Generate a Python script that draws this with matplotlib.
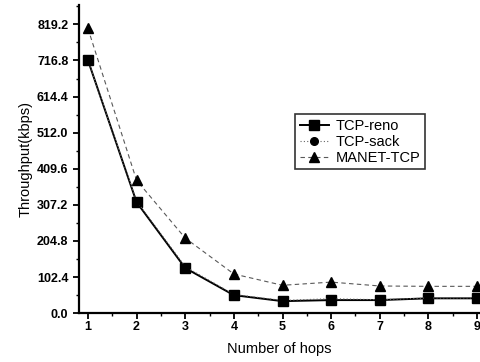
import numpy as np
import matplotlib.pyplot as plt
from matplotlib.ticker import MultipleLocator

# Datos
hops = [1, 2, 3, 4, 5, 6, 7, 8, 9]
tcp_reno = [718, 315, 128, 51, 34, 37, 37, 42, 42]
tcp_sack = [718, 318, 132, 53, 36, 41, 38, 43, 43]
manet_tcp = [808, 377, 213, 111, 79, 88, 77, 76, 76]
yticks = [0.0, 102.4, 204.8, 307.2, 409.6, 512.0, 614.4, 716.8, 819.2]

plt.rcParams['font.family'] = ['Liberation Sans', 'DejaVu Sans']

fig = plt.figure(figsize=(4.81, 3.62), dpi=100)
ax = fig.add_axes([0.164, 0.135, 0.834, 0.851])

ax.plot(hops, tcp_reno, color='black', lw=1.4, marker='s', ms=6.5, label='TCP-reno')
ax.plot(hops, tcp_sack, color='0.4', lw=0.8, ls=(0, (1, 2)), marker='o', ms=5.5,
        mfc='black', mec='black', label='TCP-sack')
ax.plot(hops, manet_tcp, color='0.35', lw=0.8, ls=(0, (4, 3)), marker='^', ms=6.5,
        mfc='black', mec='black', label='MANET-TCP')

ax.set_xlim(0.815, 9.06)
ax.set_ylim(0, 874)
ax.set_xticks(hops)
ax.set_yticks(yticks)
ax.set_yticklabels(['%.1f' % v for v in yticks])
ax.yaxis.set_minor_locator(MultipleLocator(51.2))
ax.xaxis.set_minor_locator(MultipleLocator(0.5))

for s in ['top', 'right']:
    ax.spines[s].set_visible(False)
for s in ['left', 'bottom']:
    ax.spines[s].set_linewidth(1.6)

ax.tick_params(which='major', direction='out', length=4, width=1.3, labelsize=9)
ax.tick_params(which='minor', direction='out', length=2.5, width=1.0)
ax.tick_params(axis='x', pad=2)
for lbl in ax.get_xticklabels() + ax.get_yticklabels():
    lbl.set_fontweight('bold')

ax.set_xlabel('Number of hops', fontsize=10.5, labelpad=6)
ax.set_ylabel('Throughput(kbps)', fontsize=10.5, labelpad=3)

leg = ax.legend(loc='upper left', bbox_to_anchor=(288 / 481, 1 - 107 / 362),
                bbox_transform=fig.transFigure, fontsize=10.5, frameon=True,
                fancybox=False, edgecolor='black', handlelength=2.0,
                borderpad=0.3, labelspacing=0.15, handletextpad=0.5)
leg.get_frame().set_linewidth(1.2)

fig.savefig('out.png', dpi=100, facecolor='white')
